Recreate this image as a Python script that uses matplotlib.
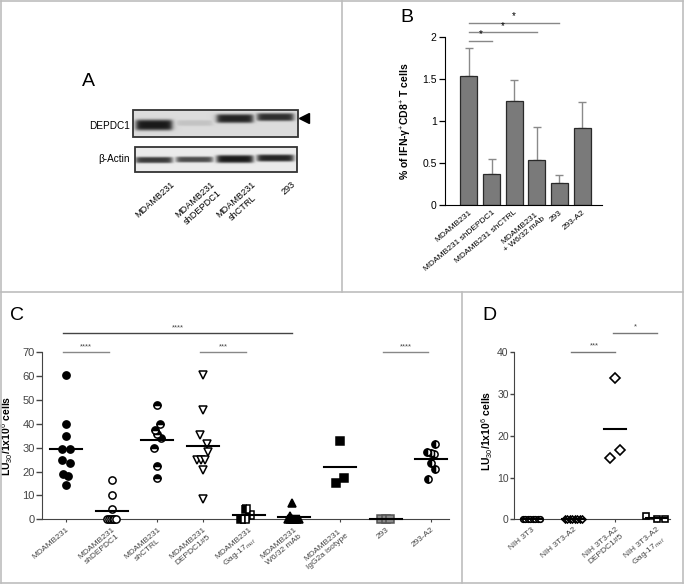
import numpy as np
import matplotlib
matplotlib.use('Agg')
import matplotlib.pyplot as plt
from matplotlib.patches import Rectangle
from matplotlib.lines import Line2D

plt.rcParams['font.family'] = ['Liberation Sans', 'DejaVu Sans']
plt.rcParams['mathtext.fontset'] = 'custom'
plt.rcParams['mathtext.rm'] = 'Liberation Sans'
plt.rcParams['mathtext.it'] = 'Liberation Sans:italic'
plt.rcParams['mathtext.bf'] = 'Liberation Sans:bold'

# ---- data -------------------------------------------------------------
# A: western blot, relative band intensity per lane
blot_lanes = ['MDAMB231', 'MDAMB231\nshDEPDC1', 'MDAMB231\nshCTRL', '293']
depdc1_int = [0.95, 0.12, 0.90, 0.85]
actin_int = [0.80, 0.72, 0.95, 0.90]

# B: % IFN-g+ CD8+ T cells
b_labels = ['MDAMB231', 'MDAMB231 shDEPDC1', 'MDAMB231 shCTRL',
            'MDAMB231\n+ W6/32 mAb', '293', '293-A2']
b_vals = [1.53, 0.37, 1.23, 0.54, 0.26, 0.91]
b_err = [0.34, 0.18, 0.25, 0.39, 0.10, 0.31]
b_sig = [(0, 1, 1.95, '*'), (0, 3, 2.05, '*'), (0, 4, 2.16, '*')]

# C: LU30 / 1x10^6 cells
c_labels = ['MDAMB231', 'MDAMB231\nshDEPDC1', 'MDAMB231\nshCTRL',
            'MDAMB231\nDEPDC1#5', 'MDAMB231\nGag-17$_{mut}$',
            'MDAMB231\nW6/32 mAb', 'MDAMB231\nIgG2a isotype', '293', '293-A2']
c_mdamb = [60.5, 40, 35, 29.5, 29.5, 25, 23.5, 19, 18, 14.5]
c_mdamb_dx = [0, 0, 0, -0.09, 0.08, -0.09, 0.08, -0.07, 0.05, 0]
c_sh = [16.5, 10, 4.5, 0, 0, 0, 0, 0, 0]
c_sh_dx = [0, 0, 0, -0.1, -0.06, -0.02, 0.02, 0.06, 0.1]
c_shctrl = [48, 40, 37.3, 35.6, 34, 30, 22.3, 17.2]
c_shctrl_dx = [0, 0.06, -0.06, 0, 0.09, -0.08, 0, 0]
c_dep = [60.5, 46, 35.2, 31.4, 28.2, 25, 25, 25, 20.5, 8.4]
c_dep_dx = [0, 0, -0.07, 0.09, 0.12, -0.13, -0.04, 0.05, 0, 0]
c_gag = [4.5, 2, 0, 0]
c_gag_dx = [-0.05, 0.04, -0.16, -0.08]
c_w632 = [7, 1.5, 0, 0, 0, 0, 0, 0, 0]
c_w632_dx = [-0.05, -0.1, -0.14, -0.1, -0.06, -0.02, 0.02, 0.06, 0.1]
c_igg = [32.8, 17.2, 15.4]
c_igg_dx = [0, 0.09, -0.08]
c_293 = [0, 0, 0]
c_293_dx = [-0.1, 0, 0.1]
c_293a2 = [31.6, 28.1, 28, 27.4, 23.7, 21, 16.9]
c_293a2_dx = [0.08, -0.09, -0.01, 0.06, -0.01, 0.08, -0.07]
c_sig = [(0, 5, 78, '****', '#444'), (0, 1, 70, '****', '#888'),
         (3, 4, 70, '***', '#888'), (7, 8, 70, '****', '#888')]

# D: LU30 / 1x10^6 cells, NIH 3T3 targets
d_labels = ['NIH 3T3', 'NIH 3T3-A2', 'NIH 3T3-A2\nDEPDC1#5',
            'NIH 3T3-A2\nGag-17$_{mut}$']
d_3t3 = [0, 0, 0, 0, 0, 0, 0, 0]
d_3t3_dx = [-0.21, -0.15, -0.09, -0.03, 0.03, 0.09, 0.15, 0.21]
d_a2 = [0, 0, 0, 0, 0, 0, 0, 0]
d_a2_dx = [-0.2, -0.14, -0.08, -0.02, 0.04, 0.1, 0.16, 0.22]
d_dep = [33.8, 16.6, 14.6]
d_dep_dx = [0, 0.12, -0.12]
d_gag = [0.8, 0, 0]
d_gag_dx = [-0.25, 0, 0.2]
d_sig = [(1, 2, 40, '***'), (2, 3, 44.7, '*')]

# ---- figure -----------------------------------------------------------
W, H = 684, 584
fig = plt.figure(figsize=(W / 100, H / 100), dpi=100)


def px_axes(l, t, r, b):
    return fig.add_axes([l / W, 1 - b / H, (r - l) / W, (b - t) / H])


# panel frame
grey = '#bdbdbd'
for (x0, y0, x1, y1) in [(1, 1, 683, 1), (1, 583, 683, 583), (1, 1, 1, 583),
                         (683, 1, 683, 583), (1, 292, 683, 292),
                         (342, 1, 342, 292), (462, 292, 462, 583)]:
    fig.add_artist(Line2D([x0 / W, x1 / W], [1 - y0 / H, 1 - y1 / H],
                          color=grey, lw=1.2))

# ---- A: blot ------------------------------------------------------------
ax_a = px_axes(0, 0, 342, 292)
lane_x = [154 + 40.5 * i for i in range(len(blot_lanes))]


def blot(ax, left, top, right, bottom, ints, ycs, hs, bg):
    nx, ny = int((right - left) * 4), int((bottom - top) * 4)
    X = np.linspace(left, right, nx)[None, :]
    Y = np.linspace(top, bottom, ny)[:, None]
    dark = np.zeros((ny, nx))
    for xc, v, yc, h in zip(lane_x, ints, ycs, hs):
        lane = 1 / (1 + np.exp((np.abs(X - xc) - 18) / 1.5))
        band = np.exp(-((Y - yc) / h) ** 4)
        dark = np.maximum(dark, v * lane * band)
    img = bg * (1 - dark) + 0.06 * dark
    ax.imshow(img, cmap='gray', vmin=0, vmax=1, aspect='auto',
              extent=(left, right, bottom, top), interpolation='bilinear')
    ax.add_patch(Rectangle((left, top), right - left, bottom - top,
                           fill=False, ec='#333', lw=1.3))


blot(ax_a, 133, 110, 298, 137, depdc1_int, [125, 123, 118.5, 117],
     [5.5, 3, 4.5, 4], 0.86)
blot(ax_a, 135, 147, 297, 172, actin_int, [160, 159.5, 159, 158],
     [3.2, 3, 4, 3.6], 0.92)
ax_a.plot(304, 118, marker='<', color='k', ms=7)
ax_a.text(130, 126, 'DEPDC1', ha='right', va='center', fontsize=7.2)
ax_a.text(130, 159, 'β-Actin', ha='right', va='center', fontsize=7.2)
for xc, lab in zip(lane_x, blot_lanes):
    ax_a.text(xc + 16, 180, lab, rotation=42, ha='right', va='top',
              rotation_mode='anchor', multialignment='center', fontsize=6.6)
ax_a.text(82, 82, 'A', fontsize=14, ha='left', va='center')
ax_a.set_xlim(0, 342)
ax_a.set_ylim(292, 0)
ax_a.axis('off')

# ---- B: bars ------------------------------------------------------------
ax_b = px_axes(445, 36.7, 602, 205)
xb = np.arange(len(b_vals))
ax_b.bar(xb, b_vals, width=0.75, color='#7a7a7a', edgecolor='#2a2a2a',
         lw=0.9, zorder=2)
ax_b.errorbar(xb, b_vals, yerr=[np.zeros(len(b_err)), b_err], fmt='none',
              ecolor='#8a8a8a', elinewidth=1, capsize=3, zorder=1)
for i, j, y, s in b_sig:
    ax_b.plot([i, j], [y, y], color='#888', lw=1, clip_on=False)
    ax_b.text((i + j) / 2, y + 0.02, s, ha='center', va='bottom', fontsize=7)
ax_b.set_xlim(-1.06, 5.88)
ax_b.set_ylim(0, 2)
ax_b.set_yticks([0, 0.5, 1, 1.5, 2])
ax_b.set_yticklabels(['0', '0.5', '1', '1.5', '2'], fontsize=7.5)
ax_b.set_xticks(xb)
ax_b.set_xticklabels(b_labels, rotation=40, ha='right',
                     rotation_mode='anchor', fontsize=6, multialignment='center')
ax_b.tick_params(axis='x', length=0, pad=3)
ax_b.tick_params(axis='y', length=4, width=0.9, pad=2)
for sp in ['top', 'right']:
    ax_b.spines[sp].set_visible(False)
ax_b.set_ylabel('% of IFN-γ$^{+}$CD8$^{+}$ T cells', fontsize=7.5,
                fontweight='bold')
ax_b.yaxis.set_label_coords(-0.197, 0.5)
fig.text(407 / W, 1 - 18 / H, 'B', fontsize=14, ha='center', va='center')

# ---- C: scatter ---------------------------------------------------------
ax_c = px_axes(42.3, 352.3, 449, 519.3)
c_groups = [(c_mdamb, c_mdamb_dx, dict(marker='o', mfc='k', mec='k')),
            (c_sh, c_sh_dx, dict(marker='o', mfc='white', mec='k')),
            (c_shctrl, c_shctrl_dx, dict(marker='o', mfc='k', mec='k',
                                         fillstyle='top', markerfacecoloralt='white')),
            (c_dep, c_dep_dx, dict(marker='v', mfc='white', mec='k')),
            (c_gag, c_gag_dx, dict(marker='s', mfc='k', mec='k',
                                   fillstyle='left', markerfacecoloralt='white')),
            (c_w632, c_w632_dx, dict(marker='^', mfc='k', mec='k')),
            (c_igg, c_igg_dx, dict(marker='s', mfc='k', mec='k')),
            (c_293, c_293_dx, dict(marker='s', mfc='#8c8c8c', mec='#555')),
            (c_293a2, c_293a2_dx, dict(marker='o', mfc='k', mec='k',
                                       fillstyle='left', markerfacecoloralt='white'))]
for i, (vals, dx, st) in enumerate(c_groups):
    ax_c.plot(i + np.array(dx), vals, ls='none', ms=5.2, mew=1.1,
              clip_on=False, zorder=3, **st)
    m = np.mean(vals)
    ax_c.plot([i - 0.35, i + 0.35], [m, m], color='k', lw=1.5, zorder=4,
              clip_on=False)
for i, j, y, s, col in c_sig:
    ax_c.plot([i - 0.06, j - 0.06], [y, y], color=col, lw=1, clip_on=False)
    ax_c.text((i + j) / 2 - 0.06, y + 0.8, s, ha='center', va='bottom',
              fontsize=5.5, color='#444')
ax_c.set_xlim(-0.52, 8.39)
ax_c.set_ylim(0, 70)
ax_c.set_yticks(range(0, 71, 10))
ax_c.set_xticks(range(len(c_labels)))
ax_c.set_xticklabels(c_labels, rotation=40, ha='right', rotation_mode='anchor',
                     fontsize=6, multialignment='center')
ax_c.tick_params(axis='y', length=4, width=1, labelsize=8, colors='#444',
                 pad=1.5)
ax_c.tick_params(axis='x', length=2, width=0.8, colors='#444', pad=3)
for sp in ['top', 'right']:
    ax_c.spines[sp].set_visible(False)
for sp in ['left', 'bottom']:
    ax_c.spines[sp].set_color('#444')
ax_c.set_ylabel('LU$_{30}$/1x10$^{6}$ cells', fontsize=7.5, fontweight='bold')
ax_c.yaxis.set_label_coords(-0.066, 0.5)
fig.text(17 / W, 1 - 315 / H, 'C', fontsize=14, ha='center', va='center')

# ---- D: scatter ---------------------------------------------------------
ax_d = px_axes(514.3, 352.3, 670, 519.3)
d_groups = [(d_3t3, d_3t3_dx, dict(marker='o', mfc='white', mec='k', ms=4)),
            (d_a2, d_a2_dx, dict(marker='D', mfc='white', mec='k', ms=3.5)),
            (d_dep, d_dep_dx, dict(marker='D', mfc='white', mec='k', ms=5)),
            (d_gag, d_gag_dx, dict(marker='s', mfc='white', mec='k', ms=5))]
for i, (vals, dx, st) in enumerate(d_groups):
    ax_d.plot(i + np.array(dx), vals, ls='none', mew=1.2, clip_on=False,
              zorder=3, **st)
    m = np.mean(vals)
    ax_d.plot([i - 0.26, i + 0.26], [m, m], color='k', lw=1.5, zorder=4,
              clip_on=False)
for i, j, y, s in d_sig:
    ax_d.plot([i - 0.05, j], [y, y], color='#777', lw=1, clip_on=False)
    ax_d.text((i + j) / 2, y + 0.6, s, ha='center', va='bottom',
              fontsize=5.5, color='#444')
ax_d.set_xlim(-0.41, 3.32)
ax_d.set_ylim(0, 40)
ax_d.set_yticks(range(0, 41, 10))
ax_d.set_xticks(range(len(d_labels)))
ax_d.set_xticklabels(d_labels, rotation=40, ha='right', rotation_mode='anchor',
                     fontsize=6, multialignment='center')
ax_d.tick_params(axis='y', length=3, width=1, labelsize=7.5, colors='#444',
                 pad=1)
ax_d.tick_params(axis='x', length=2, width=0.8, colors='#444', pad=3)
for sp in ['top', 'right']:
    ax_d.spines[sp].set_visible(False)
for sp in ['left', 'bottom']:
    ax_d.spines[sp].set_color('#444')
ax_d.set_ylabel('LU$_{30}$/1x10$^{6}$ cells', fontsize=7.5, fontweight='bold')
ax_d.yaxis.set_label_coords(-0.125, 0.53)
fig.text(489 / W, 1 - 315 / H, 'D', fontsize=14, ha='center', va='center')

fig.savefig('out.png', dpi=100)
